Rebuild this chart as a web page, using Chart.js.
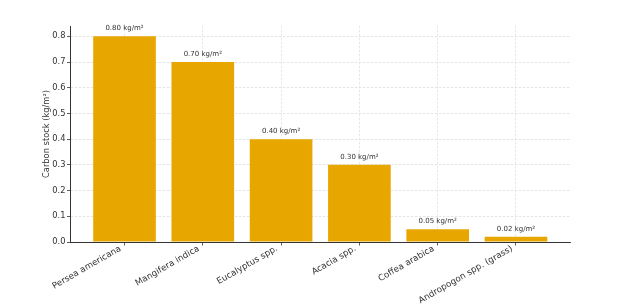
<!DOCTYPE html>
<html>
<head>
<meta charset="utf-8">
<script src="https://cdn.jsdelivr.net/npm/chart.js@4"></script>
<style>
    html, body { margin: 0; padding: 0; background: #fff; }
</style>
</head>
<body>
<canvas id="carbonChart" width="628" height="308"></canvas>
<script>
const species = [
    "Persea americana",
    "Mangifera indica",
    "Eucalyptus spp.",
    "Acacia spp.",
    "Coffea arabica",
    "Andropogon spp. (grass)"
];
const carbonStock = [0.80, 0.70, 0.40, 0.30, 0.05, 0.02];
const yTicks = [0, 0.1, 0.2, 0.3, 0.4, 0.5, 0.6, 0.7, 0.8];

const barColor = "#E8A700";
const textColor = "#333";
const fontName = "'DejaVu Sans', sans-serif";

const valueLabels = {
    id: "valueLabels",
    afterDatasetsDraw(chart) {
        const ctx = chart.ctx;
        const meta = chart.getDatasetMeta(0);
        ctx.save();
        ctx.font = "7px " + fontName;
        ctx.fillStyle = textColor;
        ctx.textAlign = "center";
        ctx.textBaseline = "middle";
        meta.data.forEach((bar, i) => {
            ctx.fillText(carbonStock[i].toFixed(2) + " kg/m²", bar.x, bar.y - 8);
        });
        ctx.restore();
    }
};

new Chart(document.getElementById("carbonChart"), {
    type: "bar",
    data: {
        datasets: [{
            data: carbonStock.map((v, i) => ({ x: i, y: v })),
            backgroundColor: barColor,
            borderWidth: 0,
            categoryPercentage: 1,
            barPercentage: 0.8
        }]
    },
    options: {
        responsive: false,
        animation: false,
        layout: {
            padding: { left: 0, right: 58, top: 26, bottom: 0 }
        },
        plugins: {
            legend: { display: false },
            tooltip: { enabled: false }
        },
        scales: {
            x: {
                type: "linear",
                min: -0.69,
                max: 5.69,
                offset: false,
                z: 1,
                afterBuildTicks: scale => {
                    scale.ticks = species.map((_, i) => ({ value: i }));
                },
                afterFit: scale => {
                    scale.height = 66;
                },
                ticks: {
                    autoSkip: false,
                    minRotation: 30,
                    maxRotation: 30,
                    padding: -2,
                    labelOffset: -4,
                    color: textColor,
                    font: { family: fontName, size: 8.7 },
                    callback: value => species[value]
                },
                grid: {
                    offset: false,
                    color: "rgba(200,200,200,0.55)",
                    lineWidth: 0.8,
                    tickColor: "#333",
                    tickLength: 3.5
                },
                border: { color: "#333", width: 1, dash: [2.5, 1.5] }
            },
            y: {
                min: 0,
                max: 0.84,
                afterBuildTicks: scale => {
                    scale.ticks = yTicks.map(v => ({ value: v }));
                },
                afterFit: scale => {
                    scale.width = 70.5;
                },
                ticks: {
                    padding: 1.5,
                    color: textColor,
                    font: { family: fontName, size: 8.3 },
                    callback: value => value.toFixed(1)
                },
                title: {
                    display: true,
                    text: "Carbon stock (kg/m²)",
                    color: textColor,
                    font: { family: fontName, size: 8.3 },
                    padding: { top: 41.5, bottom: 0 }
                },
                grid: {
                    color: "#dddddd",
                    lineWidth: 0.8,
                    tickColor: "#333",
                    tickLength: 3.5
                },
                border: { color: "#333", width: 1, dash: [2.5, 1.5] }
            }
        }
    },
    plugins: [valueLabels]
});
</script>
</body>
</html>
